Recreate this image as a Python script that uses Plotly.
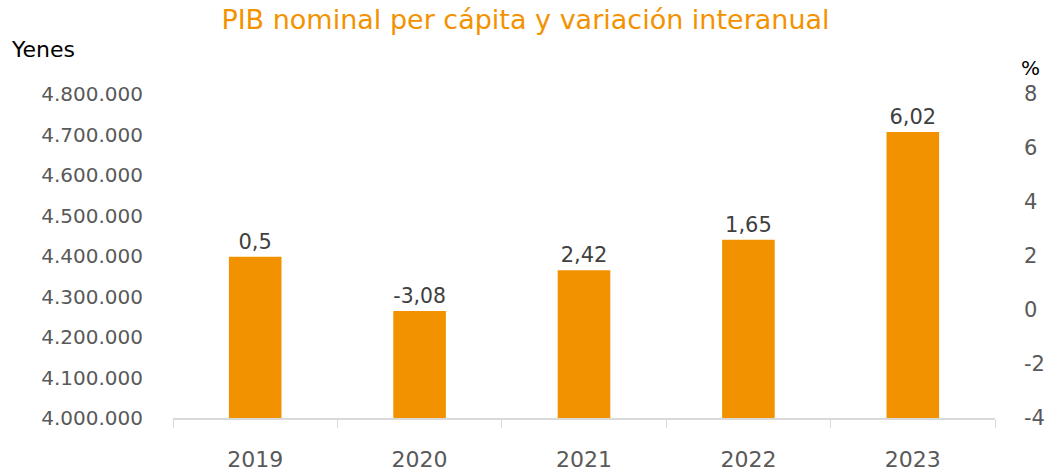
import plotly.graph_objects as go

years = ["2019", "2020", "2021", "2022", "2023"]
pib_yenes = [4398000, 4264000, 4365000, 4440000, 4706000]
var_pct = [0.5, -3.08, 2.42, 1.65, 6.02]
var_labels = ["0,5", "-3,08", "2,42", "1,65", "6,02"]

left_ticks = [4000000 + i * 100000 for i in range(9)]
left_labels = [f"{v:,}".replace(",", ".") for v in left_ticks]
right_ticks = [-4, -2, 0, 2, 4, 6, 8]
right_labels = [str(v) for v in right_ticks]  # plain hyphen, like the original

ORANGE = "#F39200"
GREY = "#595959"
FONT = "DejaVu Sans"

fig = go.Figure()
fig.add_trace(go.Bar(
    x=years,
    y=pib_yenes,
    marker=dict(color=ORANGE, line=dict(width=0)),
    text=var_labels,
    textposition="outside",
    textfont=dict(size=21, color="#404040", family=FONT),
    cliponaxis=False,
    showlegend=False,
))
# invisible series, only there so the % axis is drawn
fig.add_trace(go.Scatter(
    x=years,
    y=var_pct,
    yaxis="y2",
    mode="markers",
    marker=dict(opacity=0),
    hoverinfo="skip",
    showlegend=False,
))

fig.update_layout(
    width=1051,
    height=471,
    margin={"l": 173, "r": 56, "t": 94, "b": 53, "autoexpand": False},
    paper_bgcolor="white",
    plot_bgcolor="white",
    font=dict(family=FONT, color=GREY, size=20),
    bargap=0.68,
    title=dict(
        text="PIB nominal per cápita y variación interanual",
        x=0.5, xanchor="center", y=0.958, yanchor="middle",
        font=dict(size=27, color=ORANGE, family=FONT),
    ),
    xaxis=dict(
        showline=True, linecolor="#d9d9d9", linewidth=1.5,
        ticks="outside", tickson="boundaries", ticklen=8, tickcolor="#d9d9d9",
        ticklabelstandoff=21,
        tickfont=dict(size=22, color=GREY),
        showgrid=False,
    ),
    yaxis=dict(
        range=[4000000, 4800000],
        tickvals=left_ticks, ticktext=left_labels,
        showgrid=False, zeroline=False,
        ticklabelstandoff=29,
        tickfont=dict(size=20, color=GREY),
    ),
    yaxis2=dict(
        overlaying="y", side="right",
        range=[-4, 8],
        tickvals=right_ticks, ticktext=right_labels,
        showgrid=False, zeroline=False,
        ticklabelstandoff=28,
        tickfont=dict(size=21, color=GREY),
    ),
    annotations=[
        dict(text="Yenes", xref="paper", yref="paper", x=-164 / 822, y=1.136,
             xanchor="left", yanchor="middle", showarrow=False,
             font=dict(size=22, color="#000000", family=FONT)),
        dict(text="%", xref="paper", yref="paper", x=1 + 35 / 822, y=1.08,
             xanchor="center", yanchor="middle", showarrow=False,
             font=dict(size=20, color="#000000", family=FONT)),
    ],
)

fig.write_html(
    "out.html",
    config={"displayModeBar": False},
    post_script="document.body.style.margin='0';",
)
